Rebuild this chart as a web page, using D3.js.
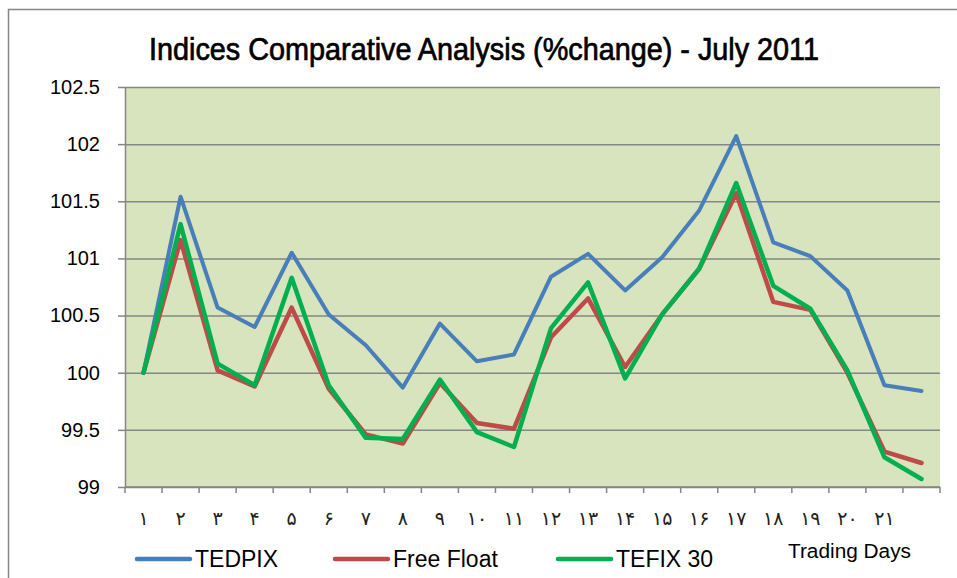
<!DOCTYPE html>
<html>
<head>
<meta charset="utf-8">
<script src="https://cdn.jsdelivr.net/npm/d3@7"></script>
<style>
  body { margin: 0; background: #fff; }
  svg { display: block; }
</style>
</head>
<body>
<svg id="chart" width="957" height="578"></svg>
<script>
// chart values
const days = ["۱", "۲", "۳", "۴", "۵", "۶", "۷", "۸", "۹", "۱۰", "۱۱",
  "۱۲", "۱۳", "۱۴", "۱۵", "۱۶", "۱۷", "۱۸", "۱۹", "۲۰", "۲۱", ""];
const tedpix = [100, 101.54, 100.57, 100.4, 101.05, 100.51, 100.24, 99.87, 100.43, 100.1, 100.16,
  100.84, 101.04, 100.72, 101.01, 101.42, 102.07, 101.14, 101.02, 100.72, 99.89, 99.84];
const freeFloat = [100, 101.16, 100.02, 99.88, 100.57, 99.86, 99.46, 99.38, 99.91, 99.56, 99.51,
  100.31, 100.65, 100.05, 100.51, 100.91, 101.57, 100.62, 100.55, 100.0, 99.31, 99.21];
const tefix30 = [100, 101.3, 100.08, 99.89, 100.83, 99.89, 99.43, 99.42, 99.94, 99.48, 99.35,
  100.39, 100.79, 99.95, 100.51, 100.91, 101.66, 100.76, 100.56, 100.02, 99.26, 99.07];
const yTicks = [99, 99.5, 100, 100.5, 101, 101.5, 102, 102.5];

const series = [
  { name: "TEDPIX", values: tedpix, color: "#4a7ebb", width: 4 },
  { name: "Free Float", values: freeFloat, color: "#be4b48", width: 4.5 },
  { name: "TEFIX 30", values: tefix30, color: "#00b050", width: 4.5 },
];

const svg = d3.select("#chart");
const plot = { left: 125, right: 940, top: 87, bottom: 487 };

// outer chart border
svg.append("rect")
  .attr("x", 8.5).attr("y", 9.5)
  .attr("width", 960).attr("height", 600)
  .attr("fill", "none")
  .attr("stroke", "#868686")
  .attr("stroke-width", 1.5);

svg.append("text")
  .attr("x", 149).attr("y", 60)
  .attr("textLength", 670)
  .attr("lengthAdjust", "spacingAndGlyphs")
  .style("font-family", "'Liberation Sans', Arial, sans-serif")
  .style("font-size", "31px")
  .attr("fill", "#000")
  .attr("stroke", "#000")
  .attr("stroke-width", 0.7)
  .text("Indices Comparative Analysis (%change) - July 2011");

const x = d3.scaleBand()
  .domain(d3.range(days.length))
  .range([plot.left, plot.right]);

const y = d3.scaleLinear()
  .domain([99, 102.5])
  .range([plot.bottom, plot.top]);

svg.append("rect")
  .attr("x", plot.left).attr("y", plot.top)
  .attr("width", plot.right - plot.left)
  .attr("height", plot.bottom - plot.top)
  .attr("fill", "#d7e4bd");

// gridlines + y axis
const yAxis = svg.append("g")
  .attr("transform", `translate(${plot.left},0)`)
  .call(d3.axisLeft(y).tickValues(yTicks)
    .tickSize(-(plot.right - plot.left)).tickSizeOuter(0)
    .tickFormat(d3.format("")));
yAxis.select(".domain").attr("stroke", "#868686").attr("stroke-width", 1.5);
yAxis.selectAll(".tick line").attr("stroke", "#868686").attr("stroke-width", 1.5);
yAxis.selectAll(".tick")
  .append("line")
  .attr("x1", -7).attr("x2", 0)
  .attr("stroke", "#868686").attr("stroke-width", 1.5);
yAxis.selectAll(".tick text")
  .attr("x", -25)
  .attr("fill", "#000")
  .style("font-family", "'Liberation Sans', Arial, sans-serif")
  .style("font-size", "20px");

// x axis
const xAxis = svg.append("g")
  .attr("transform", `translate(0,${plot.bottom})`);
xAxis.append("line")
  .attr("x1", plot.left).attr("x2", plot.right)
  .attr("stroke", "#868686").attr("stroke-width", 1.5);
xAxis.selectAll(".xtick")
  .data(d3.range(days.length + 1))
  .enter().append("line")
  .attr("x1", (d) => plot.left + d * x.step())
  .attr("x2", (d) => plot.left + d * x.step())
  .attr("y1", 0).attr("y2", 6)
  .attr("stroke", "#868686").attr("stroke-width", 1.5);
xAxis.selectAll(".xlabel")
  .data(days)
  .enter().append("text")
  .attr("x", (d, i) => x(i) + x.bandwidth() / 2)
  .attr("y", 38)
  .attr("text-anchor", "middle")
  .style("font-family", "'DejaVu Sans', sans-serif")
  .style("font-size", "19px")
  .attr("fill", "#222")
  .text((d) => d);

const line = d3.line()
  .x((d, i) => x(i) + x.bandwidth() / 2)
  .y((d) => y(d));

series.forEach((s) => {
  svg.append("path")
    .datum(s.values)
    .attr("d", line)
    .attr("fill", "none")
    .attr("stroke", s.color)
    .attr("stroke-width", s.width)
    .attr("stroke-linejoin", "round")
    .attr("stroke-linecap", "round");
});

// legend
const legendX = [137, 335, 558];
series.forEach((s, i) => {
  const g = svg.append("g").attr("transform", `translate(${legendX[i]},559)`);
  g.append("line")
    .attr("x1", 0).attr("x2", 53)
    .attr("stroke", s.color)
    .attr("stroke-width", 4.5)
    .attr("stroke-linecap", "round");
  g.append("text")
    .attr("x", 58).attr("y", 8)
    .style("font-family", "'Liberation Sans', Arial, sans-serif")
    .style("font-size", "23px")
    .attr("fill", "#000")
    .text(s.name);
});

svg.append("text")
  .attr("x", 788).attr("y", 558)
  .attr("textLength", 123)
  .attr("lengthAdjust", "spacingAndGlyphs")
  .style("font-family", "'Liberation Sans', Arial, sans-serif")
  .style("font-size", "20px")
  .attr("fill", "#000")
  .text("Trading Days");
</script>
</body>
</html>
